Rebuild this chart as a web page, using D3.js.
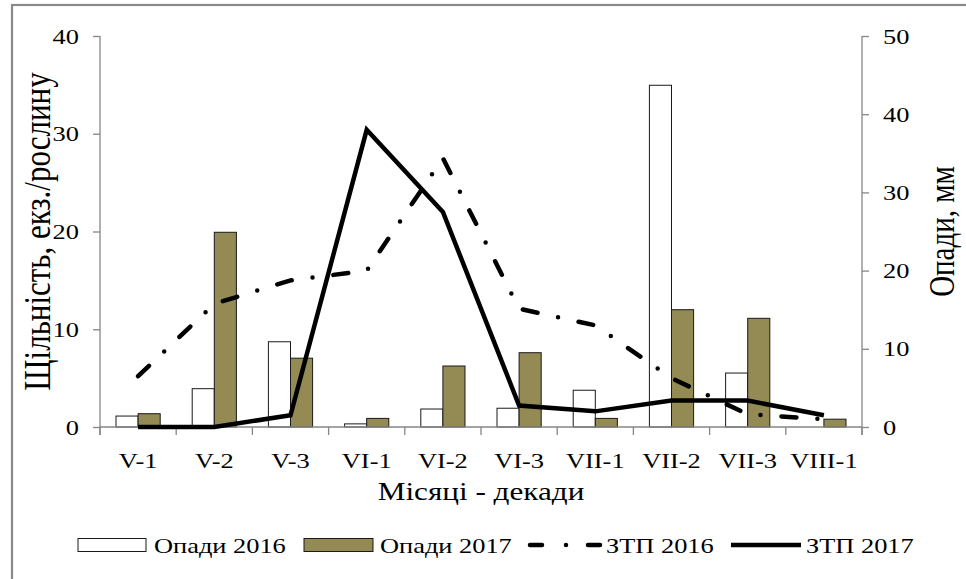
<!DOCTYPE html>
<html>
<head>
<meta charset="utf-8">
<script src="https://cdn.jsdelivr.net/npm/d3@7"></script>
<style>
  html, body { margin: 0; padding: 0; background: #fff; }
  svg { display: block; }
  text { font-family: "Liberation Serif", "Times New Roman", serif; fill: #000; }
</style>
</head>
<body>
<svg id="chart" width="966" height="579"></svg>
<script>
// Decades of the season (month in Roman numerals - decade number)
const categories = ["V-1", "V-2", "V-3", "VI-1", "VI-2", "VI-3", "VII-1", "VII-2", "VII-3", "VIII-1"];

// Precipitation, mm (right axis)
const rain2016 = [1.4, 4.9, 10.9, 0.4, 2.3, 2.4, 4.7, 43.7, 6.9, 0];
const rain2017 = [1.7, 24.9, 8.8, 1.1, 7.8, 9.5, 1.1, 15.0, 13.9, 1.0];

// Pest density, individuals per plant (left axis)
const ztp2016 = [5.2, 12.6, 15.0, 16.0, 27.5, 12.1, 10.4, 5.0, 1.3, 0.8];
const ztp2017 = [0, 0, 1.2, 30.4, 22.0, 2.2, 1.6, 2.7, 2.7, 1.2];

const leftTicks = [0, 10, 20, 30, 40];
const rightTicks = [0, 10, 20, 30, 40, 50];

const OLIVE = "#948A54";
const AXIS = "#868686";
const STRETCH = 1.2; // horizontal widening of the serif lettering

const svg = d3.select("#chart");

// outer frame (left and top edges visible)
svg.append("rect")
  .attr("x", 12).attr("y", 5)
  .attr("width", 1000).attr("height", 1000)
  .attr("fill", "none").attr("stroke", "#8a8a8a").attr("stroke-width", 2.2);

const plot = { left: 100, right: 862, top: 36, bottom: 427 };

const x = d3.scaleBand().domain(categories).range([plot.left, plot.right]).padding(0);
const yL = d3.scaleLinear().domain([0, 40]).range([plot.bottom, plot.top]);
const yR = d3.scaleLinear().domain([0, 50]).range([plot.bottom, plot.top]);

const groupW = x.bandwidth() * 0.58;
const xs = d3.scaleBand().domain(["2016", "2017"]).range([0, groupW]).padding(0);

// bars
const rainSeries = [
  { key: "2016", values: rain2016, fill: "#ffffff" },
  { key: "2017", values: rain2017, fill: OLIVE }
];
const barG = svg.append("g");
rainSeries.forEach(s => {
  barG.selectAll(null)
    .data(s.values.map((v, i) => ({ v, c: categories[i] })))
    .join("rect")
    .filter(d => d.v > 0)
    .attr("x", d => x(d.c) + (x.bandwidth() - groupW) / 2 + xs(s.key))
    .attr("y", d => yR(d.v))
    .attr("width", xs.bandwidth())
    .attr("height", d => yR(0) - yR(d.v))
    .attr("fill", s.fill)
    .attr("stroke", "#1a1a1a")
    .attr("stroke-width", 1);
});

// widen a horizontal text element around its own anchor point
function widen(sel, k) {
  sel.each(function () {
    const t = d3.select(this);
    const tx = +t.attr("x") || 0;
    const ty = +t.attr("y") || 0;
    t.attr("x", 0).attr("y", 0)
      .attr("transform", `translate(${tx},${ty}) scale(${k},1)`);
  });
}

function styleAxis(g) {
  g.attr("font-family", null);
  g.selectAll("path, line").attr("stroke", AXIS).attr("stroke-width", 1.3);
  g.selectAll("text").style("font-size", "22px").attr("fill", "#000").call(widen, STRETCH);
}

svg.append("g")
  .attr("transform", `translate(${plot.left},0)`)
  .call(d3.axisLeft(yL).tickValues(leftTicks).tickSize(7).tickPadding(14).tickSizeOuter(0))
  .call(g => g.select(".domain").attr("d", `M0,${plot.bottom + 8}V${plot.top}`))
  .call(styleAxis);

svg.append("g")
  .attr("transform", `translate(${plot.right},0)`)
  .call(d3.axisRight(yR).tickValues(rightTicks).tickSize(7).tickPadding(14).tickSizeOuter(0))
  .call(g => g.select(".domain").attr("d", `M0,${plot.bottom + 8}V${plot.top}`))
  .call(styleAxis);

const xAxisG = svg.append("g")
  .attr("transform", `translate(0,${plot.bottom})`)
  .call(d3.axisBottom(x).tickSize(0).tickPadding(25))
  .call(styleAxis);
xAxisG.select(".domain").attr("d", `M${plot.left},0H${plot.right}`);
// category boundary ticks
xAxisG.selectAll(".bound")
  .data(d3.range(categories.length + 1))
  .join("line")
  .attr("class", "bound")
  .attr("x1", i => plot.left + i * x.step())
  .attr("x2", i => plot.left + i * x.step())
  .attr("y1", 0).attr("y2", 8)
  .attr("stroke", AXIS).attr("stroke-width", 1.3);

// lines
const line = d3.line()
  .x((d, i) => x(categories[i]) + x.bandwidth() / 2)
  .y(d => yL(d));

svg.append("path")
  .datum(ztp2016)
  .attr("d", line)
  .attr("fill", "none")
  .attr("stroke", "#000")
  .attr("stroke-width", 4.5)
  .attr("stroke-linecap", "round")
  .attr("stroke-dasharray", "15 21 0 21");

svg.append("path")
  .datum(ztp2017)
  .attr("d", line)
  .attr("fill", "none")
  .attr("stroke", "#000")
  .attr("stroke-width", 4.5)
  .attr("stroke-linejoin", "miter");

// axis titles (vertical ones widened across the screen x direction)
svg.append("text")
  .attr("transform", `translate(38,${(plot.top + plot.bottom) / 2}) rotate(-90) scale(1,${STRETCH})`)
  .attr("text-anchor", "middle")
  .attr("dy", "0.33em")
  .style("font-size", "31px")
  .text("Щільність, екз./рослину");

svg.append("text")
  .attr("transform", `translate(943,${(plot.top + plot.bottom) / 2}) rotate(-90) scale(1,${STRETCH})`)
  .attr("text-anchor", "middle")
  .attr("dy", "0.33em")
  .style("font-size", "29px")
  .text("Опади, мм");

svg.append("text")
  .attr("x", (plot.left + plot.right) / 2)
  .attr("y", 500)
  .attr("text-anchor", "middle")
  .style("font-size", "26px")
  .text("Місяці - декади")
  .call(widen, STRETCH);

// legend
const legendY = 545;
const legend = svg.append("g");
const legendItems = [
  { type: "rect", fill: "#ffffff", x0: 78, x1: 146, tx: 154, label: "Опади 2016" },
  { type: "rect", fill: OLIVE, x0: 304, x1: 373, tx: 380, label: "Опади 2017" },
  { type: "dash", x0: 530, x1: 601, tx: 606, label: "ЗТП 2016" },
  { type: "solid", x0: 731, x1: 801, tx: 806, label: "ЗТП 2017" }
];
legendItems.forEach(it => {
  if (it.type === "rect") {
    legend.append("rect")
      .attr("x", it.x0).attr("y", legendY - 6.5)
      .attr("width", it.x1 - it.x0).attr("height", 13)
      .attr("fill", it.fill).attr("stroke", "#1a1a1a").attr("stroke-width", 1);
  } else {
    legend.append("line")
      .attr("x1", it.x0).attr("x2", it.x1)
      .attr("y1", legendY).attr("y2", legendY)
      .attr("stroke", "#000").attr("stroke-width", 4.5)
      .attr("stroke-linecap", it.type === "dash" ? "round" : "butt")
      .attr("stroke-dasharray", it.type === "dash" ? "12 24 0 22" : null);
  }
  legend.append("text")
    .attr("x", it.tx).attr("y", legendY + 7.5)
    .style("font-size", "22px")
    .text(it.label)
    .call(widen, STRETCH);
});
</script>
</body>
</html>
